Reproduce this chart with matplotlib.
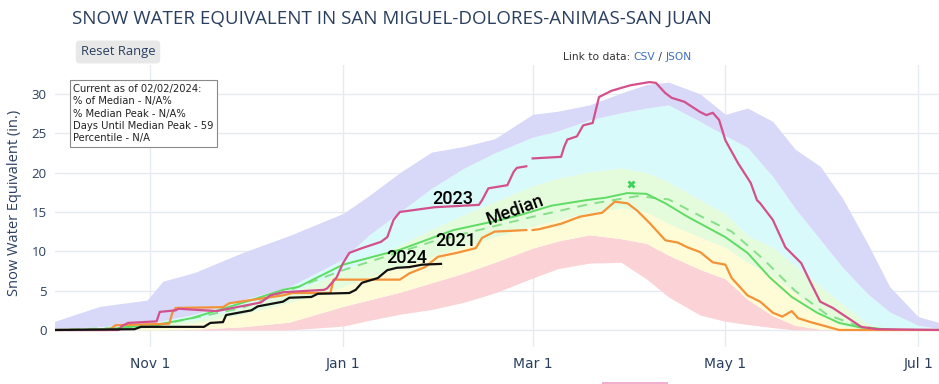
import matplotlib
matplotlib.use('Agg')
import matplotlib.pyplot as plt
import matplotlib.dates as mdates
from matplotlib.patches import Rectangle
import numpy as np
import pandas as pd

W, H = 939, 384
WY_START = pd.Timestamp('2023-10-01')

# ---------------- data (day of water year, SWE inches) ----------------
band_days = [0, 15, 30, 35, 45, 60, 75, 92, 100, 110, 120, 130, 140, 152, 160,
             170, 180, 188, 195, 205, 213, 220, 228, 235, 243, 250, 258, 265, 274, 282]
band_max = [1.0, 3.0, 3.8, 6.2, 7.3, 9.8, 12.0, 14.8, 17.0, 20.0, 22.6, 23.3, 24.3, 27.4, 27.8,
            28.6, 30.1, 31.2, 31.5, 30.0, 27.4, 28.2, 26.5, 23.0, 20.8, 16.8, 11.0, 5.5, 1.7, 0.8]
band_p90 = [0.2, 0.4, 0.8, 1.2, 2.0, 3.8, 5.5, 9.0, 12.0, 15.0, 18.0, 20.5, 22.5, 24.5, 25.3,
            26.7, 27.6, 28.2, 28.6, 26.5, 24.7, 23.2, 19.5, 15.5, 11.5, 8.0, 4.6, 2.3, 0.6, 0.1]
band_p70 = [0.1, 0.2, 0.5, 0.8, 1.3, 2.8, 4.7, 7.5, 9.0, 10.8, 12.8, 14.6, 16.3, 18.3, 19.3,
            20.1, 20.6, 20.0, 18.8, 16.5, 14.8, 12.0, 10.5, 8.2, 5.6, 3.3, 0.8, 0.1, 0.0, 0.0]
band_p30 = [0.0, 0.1, 0.3, 0.5, 0.9, 2.0, 3.5, 5.5, 6.7, 8.0, 9.3, 10.6, 11.8, 13.2, 14.0,
            14.9, 15.5, 15.0, 13.5, 11.8, 10.5, 8.6, 6.8, 4.7, 2.0, 0.5, 0.0, 0.0, 0.0, 0.0]
band_p10 = [0.0, 0.0, 0.0, 0.0, 0.1, 0.4, 1.0, 3.0, 3.8, 4.8, 6.0, 7.2, 8.6, 10.4, 11.3,
            12.1, 11.6, 11.0, 9.5, 7.7, 6.5, 3.9, 1.8, 0.6, 0.1, 0.0, 0.0, 0.0, 0.0, 0.0]
band_min = [0.0, 0.0, 0.0, 0.0, 0.0, 0.0, 0.0, 0.5, 1.2, 2.0, 2.6, 3.5, 4.7, 6.6, 7.8,
            8.5, 8.6, 6.5, 4.2, 1.9, 1.1, 0.7, 0.3, 0.0, 0.0, 0.0, 0.0, 0.0, 0.0, 0.0]

y2023_days = [0, 21, 22, 24, 33, 34, 39, 40, 52, 66, 67, 69, 73, 86, 87, 90, 92, 94, 98, 104,
              106, 108, 110, 121, 135, 136, 138, 144, 146, 147, 150, 151, 152, 161, 162, 163, 166, 168, 171, 173,
              177, 183, 189, 191, 194, 196, 200, 205, 207, 209, 211, 213, 217, 221, 223, 224, 228, 232, 237, 240,
              243, 247, 256, 261, 282]
y2023_swe = [0, 0, 0.5, 0.9, 1.1, 2.3, 2.5, 2.7, 2.4, 3.5, 3.8, 4.4, 4.8, 5.1, 5.3, 6.7, 8.5, 9.8, 10.4, 11.2,
             11.8, 14.0, 15.0, 15.6, 15.9, 16.5, 18.0, 18.4, 20.1, 20.6, 20.8, np.nan, 21.8, 22.0, 23.3, 24.2, 24.6, 26.0, 26.3, 29.6,
             30.4, 31.1, 31.5, 31.4, 30.1, 29.5, 29.0, 27.7, 27.3, 27.6, 26.7, 24.1, 21.2, 18.7, 16.5, 16.1, 14.0, 10.5, 8.5, 6.0,
             3.6, 2.8, 0.4, 0.1, 0]

y2021_days = [0, 18, 20, 37, 38, 39, 54, 56, 73, 76, 88, 89, 110, 113, 118, 122, 128, 134, 136, 140,
              150, 151, 152, 154, 161, 167, 174, 178, 182, 185, 189, 194, 198, 201, 205, 209, 213, 215, 220, 224,
              228, 231, 234, 236, 240, 249, 282]
y2021_swe = [0, 0, 0.6, 0.8, 2.2, 2.8, 2.9, 3.4, 4.4, 4.7, 4.7, 6.4, 6.4, 7.2, 8.0, 9.3, 9.8, 10.4, 11.7, 12.5,
             12.7, np.nan, 12.7, 12.8, 13.5, 14.4, 14.9, 16.3, 16.1, 15.2, 13.6, 11.4, 11.1, 10.5, 9.9, 8.6, 8.3, 6.6, 4.4, 3.6,
             2.2, 1.7, 2.4, 1.5, 1.0, 0, 0]

median_days = [0, 18, 24, 31, 44, 63, 73, 78, 84, 92, 110, 127, 142, 148, 158, 169, 175, 182, 188, 194,
               201, 207, 213, 220, 227, 234, 242, 249, 256, 268, 282]
median_swe = [0, 0.1, 0.4, 0.5, 1.5, 3.8, 5.1, 5.5, 6.7, 8.3, 10.2, 12.7, 14.0, 14.6, 15.8, 16.5, 16.8, 17.4, 17.3, 16.1,
              14.4, 13.1, 11.8, 9.8, 6.7, 4.2, 2.2, 0.9, 0.3, 0, 0]

normal_days = [0, 31, 60, 92, 120, 150, 170, 185, 195, 205, 215, 225, 235, 245, 255, 265, 282]
normal_swe = [0, 0.4, 2.8, 7.6, 11.2, 14.2, 16.0, 17.0, 16.6, 14.5, 12.5, 9.0, 5.0, 2.0, 0.5, 0, 0]

y2024_days = [0, 26, 28, 48, 50, 54, 55, 63, 65, 73, 75, 82, 84, 94, 96, 98, 103, 106, 109, 113, 117, 123]
y2024_swe = [0, 0.1, 0.4, 0.4, 0.9, 1.0, 1.9, 2.5, 3.0, 3.6, 4.1, 4.2, 4.6, 4.7, 5.1, 6.0, 6.6, 7.6, 7.9, 8.0, 8.3, 8.4]

peak_day = [183]
peak_swe = [18.6]

label_text = ['2023', '2021', '2024', 'Median']
label_day = [126.6, 127.8, 112.3, 146.4]
label_swe = [16.6, 11.3, 9.1, 15.2]
label_rot = [0, 0, 0, 20]

info_lines = ['Current as of 02/02/2024:', '% of Median - N/A%', '% Median Peak - N/A%',
              'Days Until Median Peak - 59', 'Percentile - N/A']

x_ticks = ['2023-11-01', '2024-01-01', '2024-03-01', '2024-05-01', '2024-07-01']
x_tick_labels = ['Nov 1', 'Jan 1', 'Mar 1', 'May 1', 'Jul 1']
y_ticks = [0, 5, 10, 15, 20, 25, 30]


def to_dates(days):
    return WY_START + pd.to_timedelta(np.asarray(days, dtype=float), unit='D')


TXT = '#2a3f5f'
GRID = '#e6ebf2'

fig = plt.figure(figsize=(W / 100, H / 100), dpi=100)
ax = fig.add_axes([55 / W, 37 / H, 884 / W, 282 / H])

bd = to_dates(band_days)
bands = [band_min, band_p10, band_p30, band_p70, band_p90, band_max]
band_colors = ['#fbd3d6', '#fdfcd6', '#e4fbdc', '#d9fafa', '#d8d8f8']
for lo, hi, c in zip(bands[:-1], bands[1:], band_colors):
    ax.fill_between(bd, lo, hi, color=c, lw=0, zorder=1)

ax.plot(to_dates(normal_days), normal_swe, color='#86e08a', lw=1.4, ls=(0, (5, 4)), zorder=3)
ax.plot(to_dates(median_days), median_swe, color='#5edc64', lw=1.4, zorder=4)
ax.plot(to_dates(y2021_days), y2021_swe, color='#f39237', lw=1.6, zorder=5)
ax.plot(to_dates(y2023_days), y2023_swe, color='#d4508c', lw=1.6, zorder=5)
ax.plot(to_dates(y2024_days), y2024_swe, color='#111111', lw=1.6, zorder=6)
ax.plot(to_dates(peak_day), peak_swe, ls='none', marker='X', ms=6, color='#3ed35a', mec='none', zorder=7)

for t, d, v, r in zip(label_text, label_day, label_swe, label_rot):
    ax.text(to_dates([d])[0], v, t, ha='center', va='center', rotation=r, fontsize=13,
            family='Roboto', fontweight='medium', color='black', zorder=8)

ax.set_xlim(to_dates([0.85])[0], to_dates([280.6])[0])
ax.set_ylim(-2.16, 33.67)
ax.set_xticks(pd.to_datetime(x_ticks))
ax.set_xticklabels(x_tick_labels)
ax.set_yticks(y_ticks)
for s in ax.spines.values():
    s.set_visible(False)
ax.grid(True, color=GRID, lw=1, zorder=0)
ax.set_axisbelow(True)
ax.tick_params(length=0, colors=TXT, labelsize=9)
ax.tick_params(axis='y', pad=6)
ax.tick_params(axis='x', pad=7)
for lab in ax.get_xticklabels():
    lab.set_family(['Liberation Sans Narrow', 'DejaVu Sans'])
    lab.set_fontsize(10)
for lab in ax.get_yticklabels():
    lab.set_family('Open Sans')
    lab.set_fontsize(9.5)

fig.text(15 / W, 1 - 203 / H, 'Snow Water Equivalent (in.)', rotation=90, ha='center', va='center',
         fontsize=10.5, family='Open Sans', color=TXT)

fig.text(72 / W, 1 - 19 / H, 'SNOW WATER EQUIVALENT IN SAN MIGUEL-DOLORES-ANIMAS-SAN JUAN',
         ha='left', va='center', fontsize=13.5, family='Open Sans', color=TXT)

fig.text(118 / W, 1 - 52 / H, 'Reset Range', ha='center', va='center', fontsize=9.4, family='Open Sans',
         color=TXT, bbox=dict(boxstyle='round,pad=0.38,rounding_size=0.3', fc='#e8e8e8', ec='none'))

ax.text(0.0208, 0.933, '\n'.join(info_lines), transform=ax.transAxes, ha='left', va='top', fontsize=7.2,
        family='DejaVu Sans', color='#222222', linespacing=1.3, zorder=9,
        bbox=dict(boxstyle='square,pad=0.35', fc='white', ec='#8a8a8a', lw=0.8))

renderer = fig.canvas.get_renderer()
xpos = 563
for s, c in [('Link to data: ', '#333333'), ('CSV', '#3b6fc4'), (' / ', '#333333'), ('JSON', '#3b6fc4')]:
    t = fig.text(xpos / W, 1 - 57 / H, s, ha='left', va='center', fontsize=7.7, family='DejaVu Sans', color=c)
    xpos += t.get_window_extent(renderer=renderer).width

fig.patches.append(Rectangle((602 / W, 0), 66 / W, 2.5 / H, transform=fig.transFigure,
                             fc='#f2b0d0', ec='none'))

fig.savefig('out.png', dpi=100)
